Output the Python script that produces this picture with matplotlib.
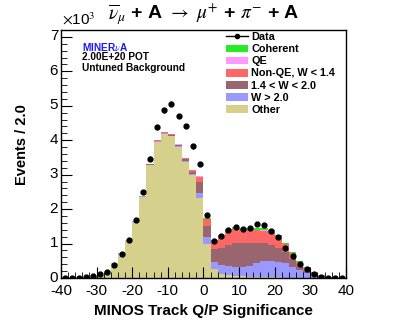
import matplotlib

matplotlib.use('Agg')
import matplotlib.pyplot as plt
import matplotlib.transforms as mtransforms
import numpy as np
from matplotlib.lines import Line2D
from matplotlib.patches import Patch
from matplotlib.ticker import MultipleLocator

plt.rcParams['font.family'] = ['Liberation Sans', 'DejaVu Sans']
plt.rcParams['mathtext.fontset'] = 'stix'
plt.rcParams['axes.unicode_minus'] = False

# bins of width 2 from -40 to 40
bin_edges = np.arange(-40, 42, 2)
bin_centers = np.arange(-39, 40, 2)

data = [5, 5, 10, 20, 58, 107, 174, 378, 698, 1105,
        1696, 2500, 3469, 4370, 4874, 5058, 4700, 4419, 3818, 3305,
        1841, 1076, 1221, 1386, 1492, 1415, 1444, 1580, 1541, 1376,
        1182, 882, 640, 397, 252, 107, 20, 5, 5, 0]

other = [3, 5, 12, 22, 45, 87, 200, 440, 710, 1090,
         1640, 2360, 3280, 3960, 4190, 4120, 3800, 3380, 3000, 2317,
         979, 250, 120, 80, 60, 50, 40, 30, 25, 20,
         15, 10, 8, 5, 3, 2, 1, 1, 0, 0]
w_gt_20 = [0, 0, 0, 0, 1, 1, 1, 2, 3, 4,
           6, 8, 10, 12, 14, 16, 20, 25, 30, 145,
           204, 203, 258, 269, 269, 260, 309, 396, 459, 474,
           460, 416, 321, 228, 133, 66, 18, 5, 2, 1]
w_14_20 = [0, 0, 1, 1, 2, 3, 4, 5, 6, 8,
           10, 12, 15, 18, 20, 22, 40, 50, 60, 338,
           329, 381, 484, 610, 679, 717, 678, 601, 524, 465,
           387, 340, 233, 145, 77, 48, 29, 10, 3, 1]
non_qe = [0, 0, 0, 1, 1, 1, 2, 2, 3, 4,
          5, 6, 8, 10, 12, 12, 15, 20, 40, 145,
          194, 242, 359, 398, 436, 368, 368, 368, 368, 388,
          359, 222, 155, 97, 68, 49, 29, 19, 4, 1]
qe = [0, 0, 0, 0, 0, 0, 1, 1, 1, 2,
      2, 3, 4, 5, 8, 15, 6, 5, 5, 5,
      5, 3, 5, 5, 5, 5, 5, 5, 5, 5,
      5, 5, 5, 3, 2, 2, 2, 1, 0, 0]
coherent = [0, 0, 0, 0, 0, 0, 0, 0, 0, 0,
            0, 0, 0, 0, 0, 1, 2, 3, 5, 25,
            38, 17, 24, 53, 43, 44, 44, 63, 63, 43,
            24, 34, 44, 26, 27, 7, 8, 5, 1, 0]

stack = [
    ('Other', other, '#d5d08c'),
    ('W > 2.0', w_gt_20, '#9999ff'),
    ('1.4 < W < 2.0', w_14_20, '#996670'),
    ('Non-QE, W < 1.4', non_qe, '#ff6666'),
    ('QE', qe, '#ff99ff'),
    ('Coherent', coherent, '#22ee22'),
]

fig = plt.figure(figsize=(4.07, 3.28), dpi=100)
ax = fig.add_axes([61 / 407, 50 / 328, 285 / 407, 248 / 328])

bottom = np.zeros(len(bin_centers))
for name, values, color in stack:
    values = np.asarray(values, dtype=float) / 1000.0
    ax.stairs(bottom + values, bin_edges, baseline=bottom, fill=True,
              color=color, linewidth=0)
    bottom = bottom + values

data_k = np.asarray(data, dtype=float) / 1000.0
err_k = np.sqrt(np.asarray(data, dtype=float)) / 1000.0
ax.errorbar(bin_centers, data_k, yerr=err_k, fmt='o', color='black',
            markersize=3.5, elinewidth=1, capsize=0)

ax.set_xlim(-40, 40)
ax.set_ylim(0, 7.2)
ax.xaxis.set_major_locator(MultipleLocator(10))
ax.xaxis.set_minor_locator(MultipleLocator(2))
ax.yaxis.set_major_locator(MultipleLocator(1))
ax.yaxis.set_minor_locator(MultipleLocator(0.2))
ax.tick_params(which='both', direction='in', top=False, right=False,
               labelsize=11)
ax.tick_params(axis='x', pad=4)
ax.tick_params(axis='y', pad=2)
ax.tick_params(which='major', length=8)
ax.tick_params(which='minor', length=4)
for spine in ax.spines.values():
    spine.set_linewidth(1)

# lift the y labels a touch so "0" does not run into "-40"
lift = mtransforms.ScaledTranslation(0, 2 / 100, fig.dpi_scale_trans)
for lbl in ax.get_yticklabels():
    lbl.set_transform(lbl.get_transform() + lift)

fig.text(62 / 407, 1 - 19 / 328, r'$\times$10$^{3}$', fontsize=11,
         ha='left', va='center')

fig.text(204 / 407, 1 - 14 / 328,
         r'$\overline{\nu}_{\mu}$ + A $\rightarrow$ $\mu^{+}$ + $\pi^{-}$ + A',
         fontsize=14, fontweight='bold', ha='center', va='center')

fig.text(203 / 407, 1 - 311 / 328, 'MINOS Track Q/P Significance',
         fontsize=11, fontweight='bold', ha='center', va='center')
fig.text(22 / 407, 1 - 145 / 328, 'Events / 2.0', fontsize=10.5,
         fontweight='bold', rotation=90, ha='center', va='center')

ax.text(0.075, 0.955, r'MINER$\nu$A', transform=ax.transAxes, fontsize=7.3,
        fontweight='bold', color='#1a1aff', va='top')
ax.text(0.075, 0.91, '2.00E+20 POT', transform=ax.transAxes, fontsize=7.3,
        fontweight='bold', va='top')
ax.text(0.075, 0.865, 'Untuned Background', transform=ax.transAxes,
        fontsize=7.3, fontweight='bold', va='top')

handles = [Line2D([], [], color='black', marker='o', markersize=3,
                  linewidth=1)]
labels = ['Data']
for name, values, color in reversed(stack):
    handles.append(Patch(facecolor=color, edgecolor='none'))
    labels.append(name)
fig.legend(handles, labels, loc='upper left',
           bbox_to_anchor=(226 / 407, 1 - 32 / 328), frameon=False,
           prop={'weight': 'bold', 'size': 7.8}, handlelength=2.0,
           handleheight=0.7, handletextpad=0.35, labelspacing=0.2,
           borderaxespad=0, borderpad=0)

fig.savefig('out.png', dpi=100)
